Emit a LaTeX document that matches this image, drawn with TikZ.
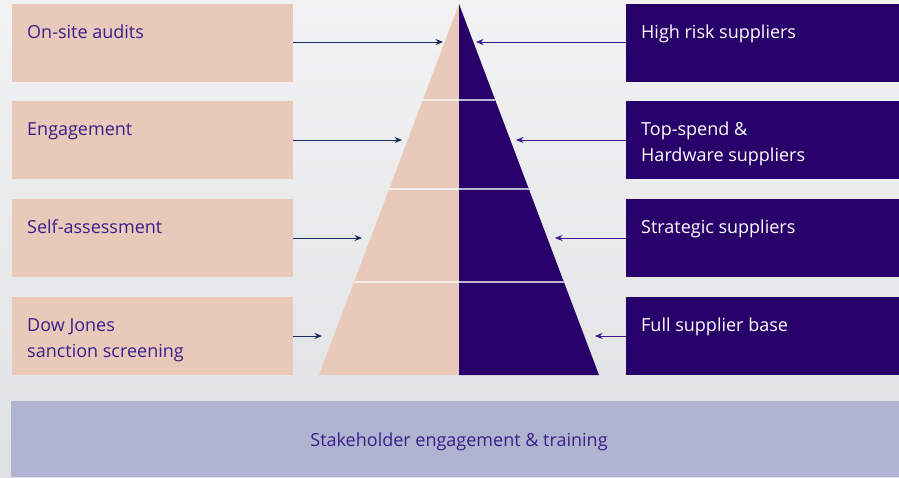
\documentclass[tikz,border=0pt]{standalone}
\usepackage{fontspec}
\setmainfont{Open Sans}
\usetikzlibrary{arrows.meta}
\definecolor{bgc}{HTML}{ECEDEE}
\definecolor{peach}{HTML}{E9CABA}
\definecolor{deep}{HTML}{28006A}
\definecolor{barc}{HTML}{B0B4D0}
\definecolor{txtp}{HTML}{3B1E8C}
\definecolor{navy}{HTML}{1B2A5C}
\definecolor{arrp}{HTML}{3A1A8E}
\tikzset{
  lbox/.style={fill=peach, draw=none, minimum width=281pt, minimum height=78pt, anchor=north west, inner sep=0pt},
  rbox/.style={fill=deep, draw=none, minimum width=273pt, minimum height=78pt, anchor=north west, inner sep=0pt},
  ltxt/.style={anchor=north west, inner sep=0pt, align=left, text=txtp, font=\fontsize{18pt}{26pt}\selectfont},
  rtxt/.style={anchor=north west, inner sep=0pt, align=left, text=white, font=\fontsize{18pt}{26pt}\selectfont},
  larr/.style={draw=navy, line width=0.8pt, -{Stealth[length=7.5pt,width=6pt]}},
  rarr/.style={draw=arrp, line width=0.8pt, -{Stealth[length=7.5pt,width=6pt]}},
}
\begin{document}
\begin{tikzpicture}[x=1pt,y=-1pt]
\useasboundingbox (0,0) rectangle (899,477);
\shade[top color=bgc!70!white, bottom color=bgc!95!black] (0,0) rectangle (899,477);

% pyramid
\coordinate (apex) at (459,4);
\coordinate (bl) at (319,375);
\coordinate (br) at (599,375);
\coordinate (bm) at (459,375);
\fill[peach] (apex) -- (bl) -- (bm) -- cycle;
\fill[deep] (apex) -- (bm) -- (br) -- cycle;
\begin{scope}
  \clip (apex) -- (bl) -- (br) -- cycle;
  \foreach \yy in {100,189,282}
    \draw[white, opacity=0.7, line width=1.4pt] (300,\yy) -- (620,\yy);
\end{scope}

% left boxes
\node[lbox] (l1) at (12,4) {};
\node[lbox] (l2) at (12,101) {};
\node[lbox] (l3) at (12,199) {};
\node[lbox] (l4) at (12,297) {};
\node[ltxt] (lt1) at (27,25) {On-site audits};
\node[ltxt] (lt2) at (27,122) {Engagement};
\node[ltxt] (lt3) at (27,220) {Self-assessment};
\node[ltxt] (lt4) at (27,318) {Dow Jones\\sanction screening};

% right boxes
\node[rbox] (r1) at (626,4) {};
\node[rbox] (r2) at (626,101) {};
\node[rbox] (r3) at (626,199) {};
\node[rbox] (r4) at (626,297) {};
\node[rtxt] (rt1) at (641,25) {High risk suppliers};
\node[rtxt] (rt2) at (641,122) {Top-spend \&\\Hardware suppliers};
\node[rtxt] (rt3) at (641,220) {Strategic suppliers};
\node[rtxt] (rt4) at (641,318) {Full supplier base};

% arrow targets
\coordinate (la1) at (443,42);
\coordinate (la2) at (402,140);
\coordinate (la3) at (362,238);
\coordinate (la4) at (322,336);
\coordinate (ra1) at (476,42);
\coordinate (ra2) at (516,140);
\coordinate (ra3) at (555,238);
\coordinate (ra4) at (595,336);
\draw[larr] (l1.east |- la1) -- (la1);
\draw[larr] (l2.east |- la2) -- (la2);
\draw[larr] (l3.east |- la3) -- (la3);
\draw[larr] (l4.east |- la4) -- (la4);
\draw[rarr] (r1.west |- ra1) -- (ra1);
\draw[rarr] (r2.west |- ra2) -- (ra2);
\draw[rarr] (r3.west |- ra3) -- (ra3);
\draw[rarr] (r4.west |- ra4) -- (ra4);

% bottom bar
\node[fill=barc, draw=none, anchor=north west, minimum width=888pt, minimum height=76pt, inner sep=0pt] (bar) at (11,401) {};
\node[text=txtp, font=\fontsize{18pt}{20pt}\selectfont, inner sep=0pt] (bart) at (459,442) {Stakeholder engagement \& training};
\end{tikzpicture}
\end{document}
